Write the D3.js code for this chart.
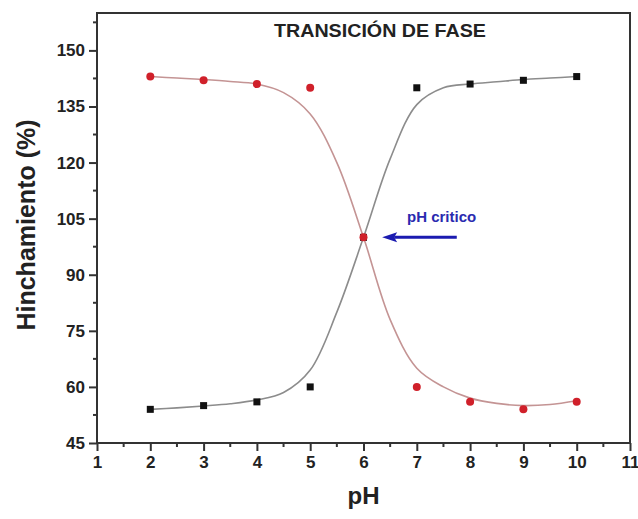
<!DOCTYPE html>
<html>
<head>
<meta charset="utf-8">
<script src="https://cdn.jsdelivr.net/npm/d3@7"></script>
<style>
  html, body { margin: 0; padding: 0; background: #fff; }
  svg { display: block; font-family: "Liberation Sans", Arial, sans-serif; }
</style>
</head>
<body>
<svg id="chart" width="638" height="519"></svg>
<script>
// ---- data ----
const phValues = [2, 3, 4, 5, 6, 7, 8, 9, 10];
const swellingBlack = [54, 55, 56, 60, 100, 140, 141, 142, 143];
const swellingRed = [143, 142, 141, 140, 100, 60, 56, 54, 56];
const fitPh = [2, 2.5, 3, 3.5, 4, 4.5, 5, 5.5, 6, 6.5, 7, 7.5, 8, 8.5, 9, 9.5, 10];
const fitBlack = [54, 54.4, 54.9, 55.5, 56.5, 58.5, 64.5, 80, 100, 121, 135.5, 140, 141, 141.6, 142.2, 142.6, 143];
const fitRed = [143, 142.6, 142.2, 141.7, 141, 138.7, 133, 120, 100, 78, 65, 60, 57, 55.6, 55, 55.3, 56.3];
const xTicks = [1, 2, 3, 4, 5, 6, 7, 8, 9, 10, 11];
const yTicks = [45, 60, 75, 90, 105, 120, 135, 150];
const titleText = "TRANSICIÓN DE FASE";
const xLabel = "pH";
const yLabel = "Hinchamiento (%)";
const annotText = "pH critico";
const arrowFrom = [7.75, 100];
const arrowTo = [6.35, 100];

// ---- layout ----
const svg = d3.select("#chart");
const L = 97, R = 630, T = 13, B = 443;
const x = d3.scaleLinear().domain([1, 11]).range([L, R]);
const y = d3.scaleLinear().domain([45, 160]).range([B, T]);
const axisColor = "#333";

// frame
svg.append("rect").attr("x", L).attr("y", T).attr("width", R - L).attr("height", B - T)
  .attr("fill", "none").attr("stroke", axisColor).attr("stroke-width", 2);

// minor ticks
const xMinor = d3.range(1.5, 11, 1);
const yMinor = d3.range(52.5, 160, 15);
svg.append("g").selectAll("line").data(xMinor).join("line")
  .attr("x1", d => x(d)).attr("x2", d => x(d)).attr("y1", B).attr("y2", B + 4)
  .attr("stroke", axisColor).attr("stroke-width", 2);
svg.append("g").selectAll("line").data(yMinor).join("line")
  .attr("y1", d => y(d)).attr("y2", d => y(d)).attr("x1", L).attr("x2", L - 4)
  .attr("stroke", axisColor).attr("stroke-width", 2);

// axes
const xAxis = d3.axisBottom(x).tickValues(xTicks).tickSize(8).tickPadding(5).tickSizeOuter(0);
const gx = svg.append("g").attr("transform", `translate(0,${B})`).call(xAxis);
gx.select(".domain").remove();
gx.selectAll(".tick line").attr("stroke", axisColor).attr("stroke-width", 2);
gx.selectAll(".tick text").attr("font-size", 17).attr("font-weight", "bold").attr("fill", "#222")
  .attr("font-family", "Liberation Sans, Arial, sans-serif");

const yAxis = d3.axisLeft(y).tickValues(yTicks).tickSize(8).tickPadding(4).tickSizeOuter(0);
const gy = svg.append("g").attr("transform", `translate(${L},0)`).call(yAxis);
gy.select(".domain").remove();
gy.selectAll(".tick line").attr("stroke", axisColor).attr("stroke-width", 2);
gy.selectAll(".tick text").attr("font-size", 17).attr("font-weight", "bold").attr("fill", "#222")
  .attr("font-family", "Liberation Sans, Arial, sans-serif");

// fit curves
const line = d3.line().x(d => x(d[0])).y(d => y(d[1])).curve(d3.curveCatmullRom.alpha(0.5));
svg.append("path").datum(fitPh.map((p, i) => [p, fitBlack[i]]))
  .attr("d", line).attr("fill", "none").attr("stroke", "#8c8c8c").attr("stroke-width", 1.6);
svg.append("path").datum(fitPh.map((p, i) => [p, fitRed[i]]))
  .attr("d", line).attr("fill", "none").attr("stroke", "#c49494").attr("stroke-width", 1.6);

// markers
svg.append("g").selectAll("rect").data(phValues.map((p, i) => [p, swellingBlack[i]])).join("rect")
  .attr("x", d => x(d[0]) - 3.5).attr("y", d => y(d[1]) - 3.5).attr("width", 7).attr("height", 7)
  .attr("fill", "#111");
svg.append("g").selectAll("circle").data(phValues.map((p, i) => [p, swellingRed[i]])).join("circle")
  .attr("cx", d => x(d[0])).attr("cy", d => y(d[1])).attr("r", 4)
  .attr("fill", "#d0202a");

// title
svg.append("text").attr("x", 380).attr("y", 37).attr("text-anchor", "middle")
  .attr("font-size", 18).attr("font-weight", "bold").attr("fill", "#222")
  .attr("textLength", 212).attr("lengthAdjust", "spacingAndGlyphs").text(titleText);

// annotation arrow
const ax0 = x(arrowFrom[0]), ax1 = x(arrowTo[0]), ay = y(arrowFrom[1]);
svg.append("line").attr("x1", ax0).attr("y1", ay).attr("x2", ax1 + 12).attr("y2", ay)
  .attr("stroke", "#1b1bb0").attr("stroke-width", 3);
svg.append("path")
  .attr("d", `M${ax1},${ay} L${ax1 + 15},${ay - 5} L${ax1 + 12},${ay} L${ax1 + 15},${ay + 5} Z`)
  .attr("fill", "#1b1bb0");
svg.append("text").attr("x", 407).attr("y", 222).attr("font-size", 15).attr("font-weight", "bold")
  .attr("fill", "#2a2ab0").text(annotText);

// axis labels
svg.append("text").attr("x", x(6)).attr("y", 504).attr("text-anchor", "middle")
  .attr("font-size", 24).attr("font-weight", "bold").attr("fill", "#222").text(xLabel);
svg.append("text").attr("transform", `translate(35,225) rotate(-90)`).attr("text-anchor", "middle")
  .attr("font-size", 25).attr("font-weight", "bold").attr("fill", "#222").text(yLabel);
</script>
</body>
</html>
